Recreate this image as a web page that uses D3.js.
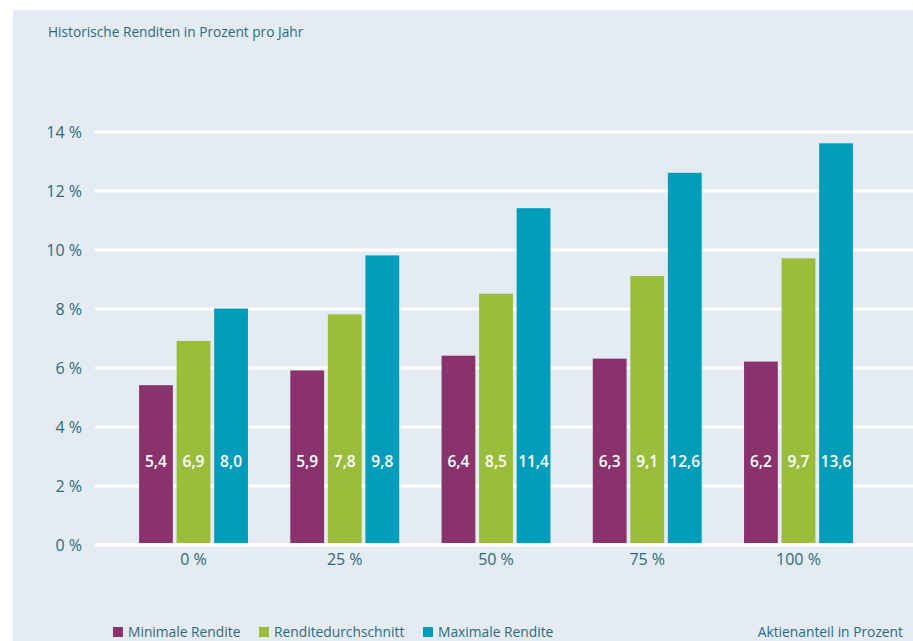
<!DOCTYPE html>
<html>
<head>
<meta charset="utf-8">
<script src="https://cdn.jsdelivr.net/npm/d3@7"></script>
<style>
  html, body { margin: 0; padding: 0; background: #ffffff; }
  svg { display: block; font-family: "Open Sans", sans-serif; }
</style>
</head>
<body>
<svg id="chart" width="913" height="641"></svg>
<script>
// Aktienanteil im Portfolio
const categories = ["0 %", "25 %", "50 %", "75 %", "100 %"];
// Renditen in Prozent pro Jahr
const minimalRendite = [5.4, 5.9, 6.4, 6.3, 6.2];
const renditeDurchschnitt = [6.9, 7.8, 8.5, 9.1, 9.7];
const maximalRendite = [8.0, 9.8, 11.4, 12.6, 13.6];
const seriesNames = ["Minimale Rendite", "Renditedurchschnitt", "Maximale Rendite"];
const yTicks = [0, 2, 4, 6, 8, 10, 12, 14];

const seriesValues = [minimalRendite, renditeDurchschnitt, maximalRendite];
const colors = ["#8a326b", "#9abd3c", "#009dba"];
const textColor = "#2b6b7c";
const fmt = v => d3.format(".1f")(v).replace(".", ",");

const svg = d3.select("#chart");

// Hintergrundfläche
svg.append("rect")
  .attr("x", 13).attr("y", 10)
  .attr("width", 900).attr("height", 631)
  .attr("fill", "#e4ebf2");

svg.append("text")
  .attr("x", 48).attr("y", 37)
  .attr("fill", textColor)
  .attr("font-size", 13.7)
  .text("Historische Renditen in Prozent pro Jahr");

const y = d3.scaleLinear().domain([0, 14]).range([544.5, 131.5]);

const x = d3.scaleBand()
  .domain(categories)
  .range([117.9, 874.1])
  .paddingInner(0.28)
  .paddingOuter(0.14);

const xs = d3.scaleBand()
  .domain(d3.range(seriesNames.length))
  .range([0, x.bandwidth()])
  .paddingInner(0.1);

// Gitterlinien
const gridAxis = d3.axisLeft(y).tickValues(yTicks).tickSize(0).tickFormat("");
const grid = svg.append("g").attr("transform", "translate(95,0)").call(gridAxis);
grid.select(".domain").remove();
grid.selectAll(".tick line")
  .attr("x1", 0).attr("x2", 913 - 95)
  .attr("stroke", "#ffffff").attr("stroke-width", 3);

// Y-Achsenbeschriftung
const yAxis = d3.axisLeft(y).tickValues(yTicks).tickSize(0).tickPadding(0)
  .tickFormat(d => d + " %");
const yg = svg.append("g").attr("transform", "translate(82,0)").call(yAxis);
yg.select(".domain").remove();
yg.selectAll("text")
  .attr("fill", textColor)
  .attr("font-size", 16)
  .attr("font-family", "'Open Sans', sans-serif")
  .attr("dy", "0.35em");

// Balken mit Wertbeschriftung
const groups = svg.append("g").selectAll("g")
  .data(categories)
  .join("g")
  .attr("transform", d => `translate(${x(d)},0)`);

groups.each(function(cat, ci) {
  const g = d3.select(this);
  seriesValues.forEach((vals, si) => {
    const v = vals[ci];
    g.append("rect")
      .attr("x", xs(si))
      .attr("width", xs.bandwidth())
      .attr("y", y(v))
      .attr("height", y(0) - y(v) - 1.5)
      .attr("fill", colors[si]);
    g.append("text")
      .attr("x", xs(si) + xs.bandwidth() / 2)
      .attr("y", 462)
      .attr("dy", "0.35em")
      .attr("text-anchor", "middle")
      .attr("fill", "#ffffff")
      .attr("font-weight", 600)
      .attr("font-size", 15.5)
      .text(fmt(v));
  });
});

// Nulllinie
svg.append("line")
  .attr("x1", 95).attr("x2", 913)
  .attr("y1", y(0)).attr("y2", y(0))
  .attr("stroke", "#ffffff").attr("stroke-width", 3);

// X-Achsenbeschriftung
const xAxis = d3.axisBottom(x).tickSize(0).tickPadding(0);
const xg = svg.append("g").attr("transform", `translate(0,${y(0)})`).call(xAxis);
xg.select(".domain").remove();
xg.selectAll("text")
  .attr("y", 15)
  .attr("dy", "0.35em")
  .attr("fill", textColor)
  .attr("font-size", 16)
  .attr("font-family", "'Open Sans', sans-serif");

// Legende
const legendX = [113, 259, 423];
const legend = svg.append("g");
seriesNames.forEach((name, i) => {
  legend.append("rect")
    .attr("x", legendX[i]).attr("y", 627)
    .attr("width", 10).attr("height", 10)
    .attr("fill", colors[i]);
  legend.append("text")
    .attr("x", legendX[i] + 15).attr("y", 637)
    .attr("fill", textColor)
    .attr("font-size", 13.8)
    .text(name);
});

svg.append("text")
  .attr("x", 903).attr("y", 637)
  .attr("text-anchor", "end")
  .attr("fill", textColor)
  .attr("font-size", 13.8)
  .text("Aktienanteil in Prozent");
</script>
</body>
</html>
